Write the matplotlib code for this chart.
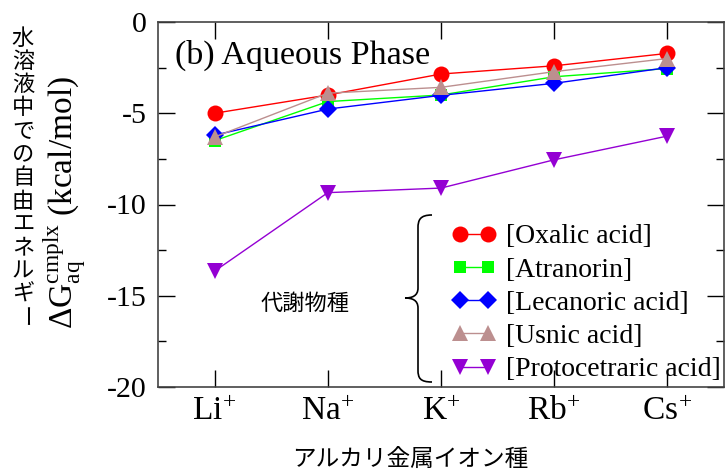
import matplotlib
matplotlib.use("Agg")
import matplotlib.pyplot as plt
from matplotlib.path import Path
from matplotlib.patches import PathPatch

ions = [r"$\mathregular{Li^{\!+}}$", r"$\mathregular{Na^{\!+}}$", r"$\mathregular{K^{\!+}}$",
        r"$\mathregular{Rb^{\!+}}$", r"$\mathregular{Cs^{\!+}}$"]
oxalic = [-5.0, -4.0, -2.85, -2.4, -1.72]
atranorin = [-6.5, -4.36, -4.0, -3.0, -2.55]
lecanoric = [-6.2, -4.77, -4.02, -3.36, -2.5]
usnic = [-6.3, -3.9, -3.58, -2.72, -2.0]
protocetraric = [-13.65, -9.35, -9.1, -7.55, -6.25]
names = ["[Oxalic acid]", "[Atranorin]", "[Lecanoric acid]", "[Usnic acid]", "[Protocetraric acid]"]

plt.rcParams['mathtext.fontset'] = 'custom'
plt.rcParams['mathtext.rm'] = 'Liberation Serif'
plt.rcParams['mathtext.it'] = 'Liberation Serif:italic'
plt.rcParams['font.family'] = ['Liberation Serif', 'Noto Sans CJK JP']

W, H = 725, 471
fig = plt.figure(figsize=(W/100, H/100), dpi=100)
ax = fig.add_axes([158/W, 1-387/H, (724-158)/W, (387-22)/H])

x = list(range(len(ions)))
series = [oxalic, atranorin, lecanoric, usnic, protocetraric]
colors = ["#ff0000", "#00ff00", "#0000ff", "#bc8f8f", "#9400d3"]
markers = ["o", "s", "D", "^", "v"]
msizes = [11.5, 8.5, 9, 11, 11]
handles = []
for i in range(len(series)):
    h, = ax.plot(x, series[i], color=colors[i], marker=markers[i], markersize=msizes[i],
                 lw=1.0, markeredgewidth=0, label=names[i])
    handles.append(h)

ax.set_xlim(-0.5, 4.5)
ax.set_ylim(-20, 0)
ax.set_xticks(x)
ax.set_xticklabels(ions, fontsize=24)
ax.set_yticks([0, -5, -10, -15, -20])
ax.set_yticklabels(["0", "-5", "-10", "-15", "-20"], fontsize=21.5)
ax.set_yticks([-2.5, -7.5, -12.5, -17.5], minor=True)
ax.tick_params(which='major', direction='in', length=12, width=1, top=True, right=True, pad=8)
ax.tick_params(which='minor', direction='in', length=6, width=1, right=True)
ax.tick_params(axis='x', pad=7)
for s in ax.spines.values():
    s.set_color('#444444')
    s.set_linewidth(1.2)

fig.text(175/W, 1-63.5/H, "(b) Aqueous Phase", fontsize=24.5,
         family='Liberation Serif', va='baseline', ha='left')

ax.set_ylabel(r"$\mathregular{\Delta G_{aq}^{cmplx}}$ (kcal/mol)", fontsize=24, labelpad=2)
ax.yaxis.set_label_coords((88-158)/(724-158), 1-(203-22)/(387-22))

leg = fig.legend(handles=handles, loc='upper left', bbox_to_anchor=(452/W, 1-224/H),
                 frameon=False, numpoints=2, handlelength=1.6, handletextpad=0.35,
                 labelspacing=0.28, prop={'family': 'Liberation Serif', 'size': 20},
                 borderaxespad=0, borderpad=0)

# brace
pts = [(432, 215), (420, 215), (418, 220), (418, 228),
       (418, 288),
       (418, 296), (412, 298), (405, 298),
       (412, 298), (418, 300), (418, 308),
       (418, 370),
       (418, 378), (420, 382), (432, 382)]
codes = [Path.MOVETO, Path.CURVE4, Path.CURVE4, Path.CURVE4,
         Path.LINETO,
         Path.CURVE4, Path.CURVE4, Path.CURVE4,
         Path.CURVE4, Path.CURVE4, Path.CURVE4,
         Path.LINETO,
         Path.CURVE4, Path.CURVE4, Path.CURVE4]
verts = [(px/W, 1-py/H) for px, py in pts]
fig.patches.append(PathPatch(Path(verts, codes), transform=fig.transFigure,
                             fill=False, lw=1.2, color='black'))

cjk = ['Noto Sans CJK JP', 'DejaVu Sans']
fig.text(305/W, 1-303/H, "代謝物種", family=cjk, fontsize=16, ha='center', va='center')
fig.text(410/W, 1-459/H, "アルカリ金属イオン種", family=cjk, fontsize=17, ha='center', va='center')

vlabel = "水溶液中での自由エネルギ"
y0, step = 38, 23.3
for k, ch in enumerate(vlabel):
    fig.text(23/W, 1-(y0+k*step)/H, ch, family=cjk, fontsize=16, ha='center', va='center')
fig.text(23/W, 1-(y0+len(vlabel)*step)/H, "ー", family=cjk, fontsize=16, ha='center',
         va='center', rotation=-90)

fig.savefig("out.png", dpi=100)
